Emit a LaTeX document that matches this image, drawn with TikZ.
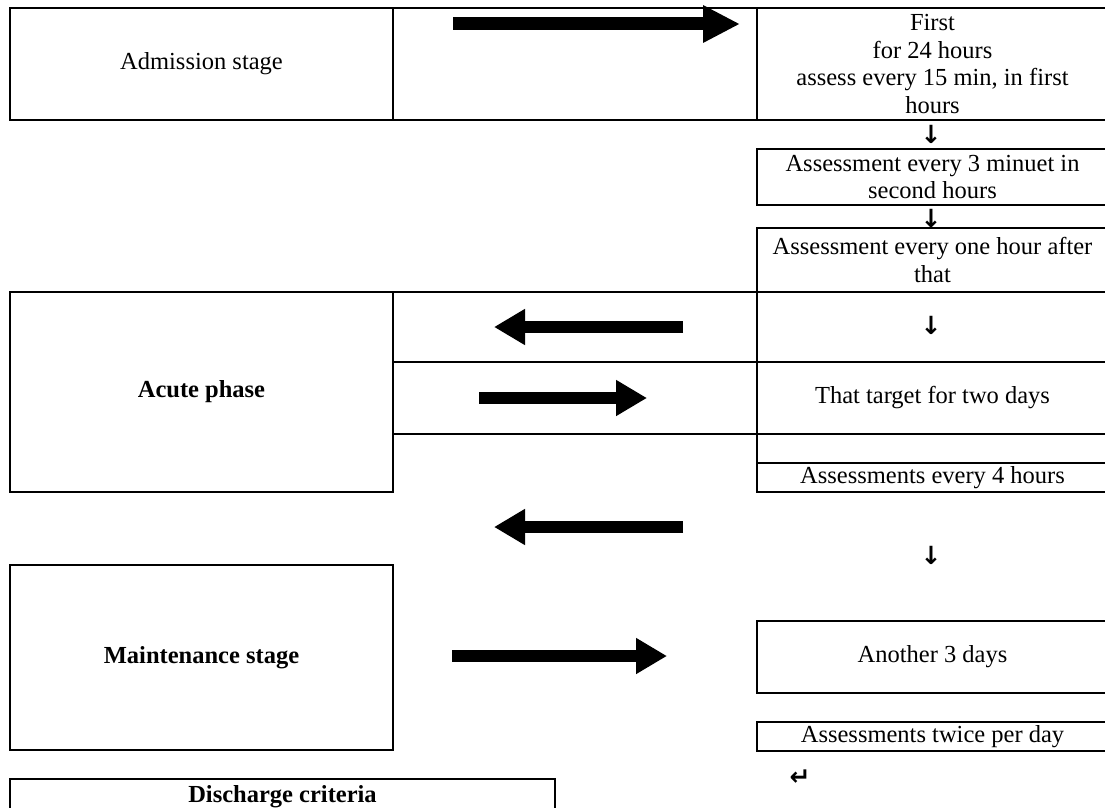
\documentclass[tikz,border=0pt]{standalone}
\usepackage{fontspec}
\setmainfont{Liberation Serif}
\newfontfamily\symfont{DejaVu Sans}
\usetikzlibrary{arrows.meta}
\begin{document}
\begin{tikzpicture}[x=1pt,y=-1pt,
  box/.style={draw, line width=2.8pt, inner sep=0pt, align=center,
    font=\fontsize{24.5}{27.5}\selectfont},
  bbox/.style={box, font=\fontsize{24.5}{27.5}\selectfont\bfseries},
  fat/.style={line width=12.5pt, -{Triangle[length=31pt,width=34pt]}},
  fatbig/.style={line width=13pt, -{Triangle[length=37pt,width=35pt]}},
  sym/.style={font=\symfont\bfseries\fontsize{25}{25}\selectfont, inner sep=0pt},
]
\useasboundingbox (0,0) rectangle (1105,808);

% top row
\node[box, minimum width=383pt, minimum height=112pt] (adm) at (201.5,64) {Admission stage};
\node[box, minimum width=364pt, minimum height=112pt] (topmid) at (575,64) {};
\node[box, minimum width=351pt, minimum height=112pt] (first) at (932.5,64)
  {First\\for 24 hours\\assess every 15 min, in first\\hours};
\coordinate (ta1) at (453,24);
\coordinate (ta2) at (740,24);
\draw[fatbig] (ta1) -- (ta2);

\node[sym] (d1) at (931,134) {↓};
\node[box, minimum width=351pt, minimum height=56pt] (b2) at (932.5,177)
  {Assessment every 3 minuet in\\second hours};
\node[sym] (d2) at (931,218) {↓};
\node[box, minimum width=351pt, minimum height=64pt] (b3) at (932.5,260)
  {Assessment every one hour after\\that};

% acute phase block
\node[bbox, minimum width=383pt, minimum height=200pt] (acute) at (201.5,392) {Acute phase};
\node[box, minimum width=364pt, minimum height=70pt] (am1) at (575,327) {};
\node[box, minimum width=364pt, minimum height=72pt] (am2) at (575,398) {};
\node[box, minimum width=351pt, minimum height=70pt] (ar1) at (932.5,327) {};
\node[sym] (d4) at (931,325) {↓};
\node[box, minimum width=351pt, minimum height=72pt] (ar2) at (932.5,398) {That target for two days};
\node[box, minimum width=351pt, minimum height=29pt] (ar3) at (932.5,448.5) {};
\node[box, minimum width=351pt, minimum height=29pt] (ar4) at (932.5,477.5) {Assessments every 4 hours};

\coordinate (la1s) at (683,327);
\coordinate (la1e) at (494,327);
\draw[fat] (la1s) -- (la1e);
\coordinate (ra1s) at (479,398);
\coordinate (ra1e) at (647,398);
\draw[fat] (ra1s) -- (ra1e);

% between
\coordinate (la2s) at (683,527);
\coordinate (la2e) at (494,527);
\draw[fat] (la2s) -- (la2e);
\node[sym] (d3) at (931,555) {↓};

% maintenance block
\node[bbox, minimum width=383pt, minimum height=185pt] (maint) at (201.5,657.5) {Maintenance stage};
\coordinate (ra2s) at (452,656);
\coordinate (ra2e) at (667,656);
\draw[fat] (ra2s) -- (ra2e);
\node[box, minimum width=351pt, minimum height=72pt] (another) at (932.5,657) {Another 3 days};
\node[box, minimum width=351pt, minimum height=29pt] (twice) at (932.5,736.5) {Assessments twice per day};
\node[sym] (ret) at (800,778) {↵};

% discharge
\node[bbox, minimum width=545pt, minimum height=36pt] (disch) at (282.5,797) {Discharge criteria};
\end{tikzpicture}
\end{document}
